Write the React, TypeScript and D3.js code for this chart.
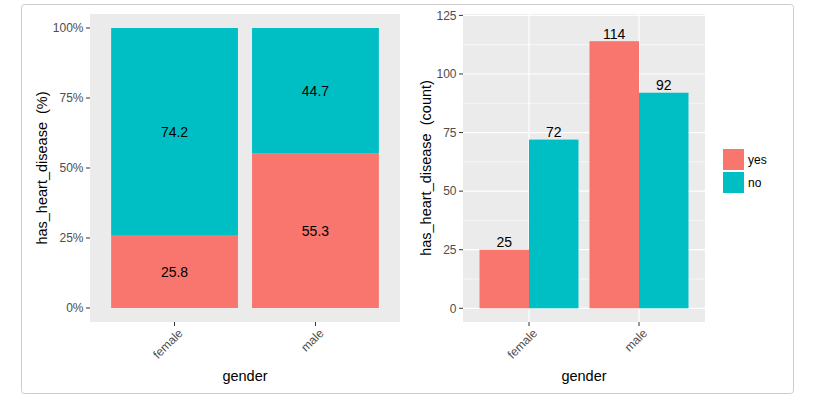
import React from "react";
import * as d3 from "d3";

// data
const genders = ["female", "male"];
const groups = ["yes", "no"];
const colors = ["#F8766D", "#00BFC4"];
// percent of each gender, stacked: yes at the bottom, no on top
const pctYes = [25.8, 55.3];
const pctNo = [74.2, 44.7];
// counts
const countYes = [25, 114];
const countNo = [72, 92];

const pctTicks = [0, 0.25, 0.5, 0.75, 1];
const pctTickLabels = ["0%", "25%", "50%", "75%", "100%"];
const countTicks = [0, 25, 50, 75, 100, 125];
const countMinor = [12.5, 37.5, 62.5, 87.5, 112.5];

const FONT = "'Liberation Sans', Arial, sans-serif";
const TICK_COLOR = "#4d4d4d";

const left = { x0: 90, x1: 400, y0: 14, y1: 322 };
const right = { x0: 463, x1: 705, y0: 14, y1: 322 };

export default function App() {
  // left plot scales
  const xL = d3.scalePoint<string>().domain(genders).range([left.x0, left.x1]).padding(0.6);
  const yL = d3.scaleLinear().domain([-0.05, 1.05]).range([left.y1, left.y0]);
  const bwL = xL.step() * 0.9;

  // right plot scales
  const xR = d3.scalePoint<string>().domain(genders).range([right.x0, right.x1]).padding(0.6);
  const yR = d3.scaleLinear().domain([-5.85, 125.6]).range([right.y1, right.y0]);
  const bwR = (xR.step() * 0.9) / 2;

  const stacked = genders.map((g, i) => {
    const yes = pctYes[i] / 100;
    const no = pctNo[i] / 100;
    return [
      { g, key: "yes", lo: 0, hi: yes, v: pctYes[i] },
      { g, key: "no", lo: yes, hi: yes + no, v: pctNo[i] },
    ];
  });

  const dodged = genders.flatMap((g, i) => [
    { g, key: "yes", v: countYes[i], off: -1 },
    { g, key: "no", v: countNo[i], off: 0 },
  ]);

  const color = d3.scaleOrdinal<string, string>().domain(groups).range(colors);

  const xTickLabel = (x: number, label: string, k: string) => (
    <g key={k}>
      <line x1={x} x2={x} y1={322} y2={326} stroke="#333" strokeWidth={1} />
      <text
        transform={`translate(${x + 3},${328}) rotate(-45)`}
        dy="0.7em"
        textAnchor="end"
        fontSize={12}
        fill={TICK_COLOR}
      >
        {label}
      </text>
    </g>
  );

  return (
    <svg
      width={823}
      height={404}
      style={{ position: "absolute", left: 0, top: 0, fontFamily: FONT }}
    >
      <rect x={0} y={0} width={823} height={404} fill="white" />
      <rect x={21.5} y={4.5} width={772} height={389} rx={3} fill="white" stroke="#cccccc" />

      {/* left: percentage stack */}
      <rect x={left.x0} y={left.y0} width={left.x1 - left.x0} height={left.y1 - left.y0} fill="#ebebeb" />
      {stacked.flat().map((d, i) => (
        <rect
          key={i}
          x={xL(d.g)! - bwL / 2}
          width={bwL}
          y={yL(d.hi)}
          height={yL(d.lo) - yL(d.hi)}
          fill={color(d.key)}
        />
      ))}
      {stacked.flat().map((d, i) => (
        <text
          key={i}
          x={xL(d.g)!}
          y={yL((d.lo + d.hi) / 2)}
          dy="0.36em"
          textAnchor="middle"
          fontSize={14}
          fill="black"
        >
          {d.v.toFixed(1)}
        </text>
      ))}
      {pctTicks.map((t, i) => (
        <g key={t}>
          <line x1={86} x2={90} y1={yL(t)} y2={yL(t)} stroke="#333" />
          <text x={83.5} y={yL(t)} dy="0.36em" textAnchor="end" fontSize={12} fill={TICK_COLOR}>
            {pctTickLabels[i]}
          </text>
        </g>
      ))}
      {genders.map((g) => xTickLabel(xL(g)!, g, "l" + g))}
      <text
        transform={`translate(42,${(left.y0 + left.y1) / 2}) rotate(-90)`}
        dy="0.36em"
        textAnchor="middle"
        fontSize={14.5}
        style={{ whiteSpace: "pre" }}
      >
        {"has_heart_disease  (%)"}
      </text>
      <text x={(left.x0 + left.x1) / 2} y={381} textAnchor="middle" fontSize={14.5}>
        gender
      </text>

      {/* right: dodged counts */}
      <rect x={right.x0} y={right.y0} width={right.x1 - right.x0} height={right.y1 - right.y0} fill="#ebebeb" />
      {countMinor.map((t) => (
        <line key={t} x1={right.x0} x2={right.x1} y1={yR(t)} y2={yR(t)} stroke="white" strokeWidth={0.6} />
      ))}
      {countTicks.map((t) => (
        <line key={t} x1={right.x0} x2={right.x1} y1={yR(t)} y2={yR(t)} stroke="white" strokeWidth={1.2} />
      ))}
      {genders.map((g) => (
        <line key={g} x1={xR(g)!} x2={xR(g)!} y1={right.y0} y2={right.y1} stroke="white" strokeWidth={1.2} />
      ))}
      {dodged.map((d, i) => (
        <rect
          key={i}
          x={xR(d.g)! + d.off * bwR}
          width={bwR}
          y={yR(d.v)}
          height={yR(0) - yR(d.v)}
          fill={color(d.key)}
        />
      ))}
      {dodged.map((d, i) => (
        <text
          key={i}
          x={xR(d.g)! + d.off * bwR + bwR / 2}
          y={yR(d.v) - 2.5}
          textAnchor="middle"
          fontSize={14}
          fill="black"
        >
          {d.v}
        </text>
      ))}
      {countTicks.map((t) => (
        <g key={t}>
          <line x1={459} x2={463} y1={yR(t)} y2={yR(t)} stroke="#333" />
          <text x={456.5} y={yR(t)} dy="0.36em" textAnchor="end" fontSize={12} fill={TICK_COLOR}>
            {t}
          </text>
        </g>
      ))}
      {genders.map((g) => xTickLabel(xR(g)!, g, "r" + g))}
      <text
        transform={`translate(426,${(right.y0 + right.y1) / 2}) rotate(-90)`}
        dy="0.36em"
        textAnchor="middle"
        fontSize={14.5}
        style={{ whiteSpace: "pre" }}
      >
        {"has_heart_disease  (count)"}
      </text>
      <text x={(right.x0 + right.x1) / 2} y={381} textAnchor="middle" fontSize={14.5}>
        gender
      </text>

      {/* legend */}
      {groups.map((k, i) => (
        <g key={k} transform={`translate(723,${149 + i * 23})`}>
          <rect width={21} height={21} fill={color(k)} />
          <text x={25} y={10.5} dy="0.36em" fontSize={12} fill="black">
            {k}
          </text>
        </g>
      ))}
    </svg>
  );
}
